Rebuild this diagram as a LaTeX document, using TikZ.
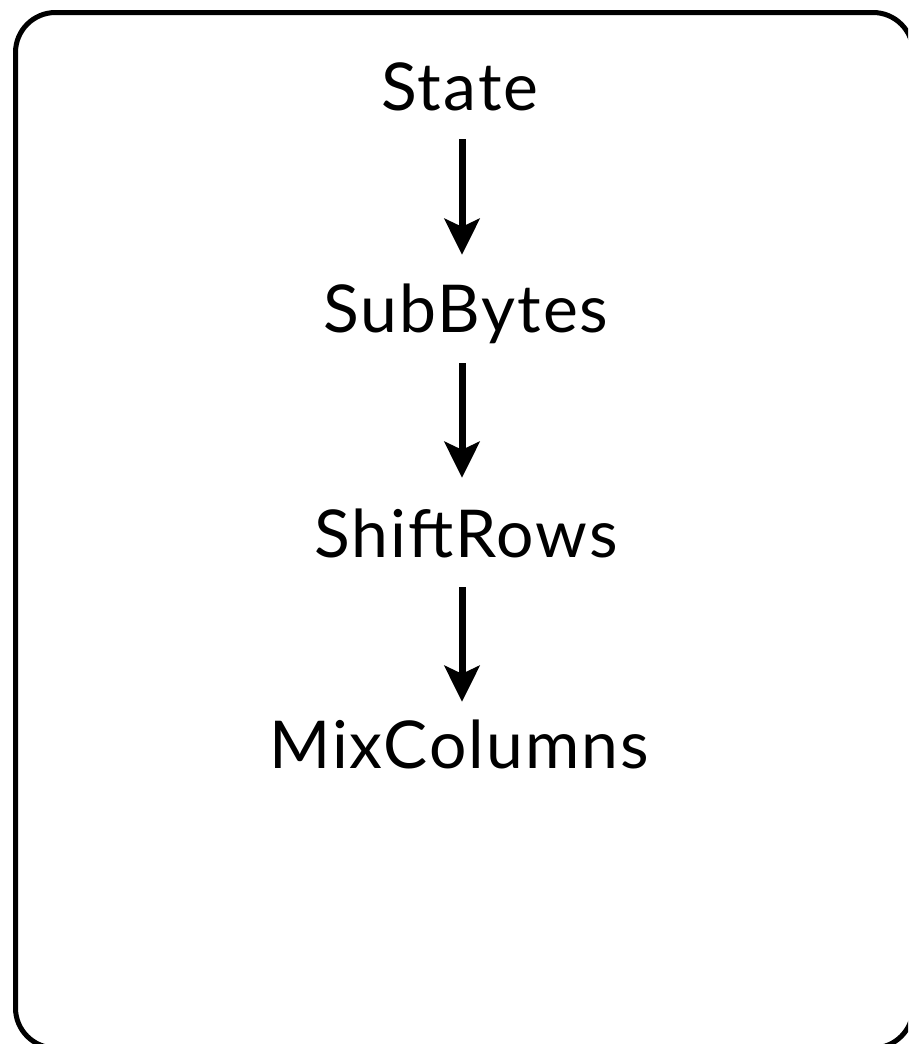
\documentclass[tikz,border=0pt]{standalone}
\usepackage{fontspec}
\setmainfont{Lato}[LetterSpace=3]
\usetikzlibrary{arrows.meta}
\begin{document}
\begin{tikzpicture}[x=1pt,y=-1pt,
  stage/.style={anchor=base, inner sep=0pt, text height=46pt, text depth=0pt,
    font=\fontsize{66}{72}\selectfont},
  flow/.style={line width=7pt, -{Stealth[length=36pt, width=35pt, inset=8pt]}},
  frame/.style={line width=5pt, rounded corners=40pt}]
  \useasboundingbox (0,0) rectangle (908,1044);
  \begin{scope}
    \clip (0,0) rectangle (908,1044);
    \draw[frame] (15.5,12.5) rectangle (913,1048);
  \end{scope}
  \node[stage] (state) at (460,110) {State};
  \node[stage] (sub)   at (466,332) {SubBytes};
  \node[stage] (shift) at (466,557) {ShiftRows};
  \node[stage] (mix)   at (459,768) {MixColumns};
  \draw[flow, shorten <=29pt, shorten >=31pt] (state.south -| 462,0) -- (sub.north -| 462,0);
  \draw[flow, shorten <=31pt, shorten >=33pt] (sub.south -| 462,0) -- (shift.north -| 462,0);
  \draw[flow, shorten <=30pt, shorten >=20pt] (shift.south -| 462,0) -- (mix.north -| 462,0);
\end{tikzpicture}
\end{document}
